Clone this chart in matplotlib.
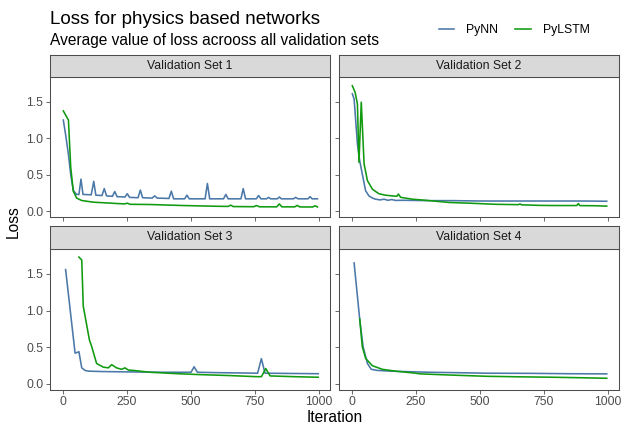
import matplotlib
matplotlib.use("Agg")
import matplotlib.pyplot as plt
from matplotlib.lines import Line2D

plt.rcParams['font.family'] = ['Liberation Sans', 'DejaVu Sans']

panels = ["Validation Set 1", "Validation Set 2", "Validation Set 3", "Validation Set 4"]
series_names = ["PyNN", "PyLSTM"]
colors = {"PyNN": "#4A78A8", "PyLSTM": "#109A10"}

# Validation Set 1
s1_nn_x = [1, 10, 21, 30, 40, 53, 62, 70, 78, 110, 120, 128, 152, 161, 170, 193, 202, 211, 242, 251, 260,
           293, 302, 311, 348, 358, 368, 414, 423, 432, 475, 484, 493, 555, 564, 573, 627, 636, 645,
           695, 704, 713, 755, 764, 773, 795, 803, 811, 837, 845, 853, 900, 909, 918, 957, 965, 973, 994]
s1_nn_y = [1.25, 1.05, 0.78, 0.50, 0.285, 0.23, 0.23, 0.44, 0.23, 0.225, 0.41, 0.22, 0.215, 0.31, 0.21, 0.205, 0.27, 0.20,
           0.195, 0.24, 0.19, 0.185, 0.29, 0.185, 0.18, 0.21, 0.18, 0.175, 0.275, 0.17, 0.17, 0.22, 0.17, 0.17, 0.38, 0.17,
           0.17, 0.23, 0.17, 0.17, 0.31, 0.17, 0.17, 0.215, 0.17, 0.17, 0.19, 0.17, 0.17, 0.195, 0.17, 0.17, 0.19, 0.17,
           0.17, 0.20, 0.17, 0.17]
s1_lstm_x = [1, 21, 30, 40, 53, 73, 118, 210, 240, 251, 262, 340, 470, 600, 645, 655, 665, 745, 756, 767,
             835, 845, 855, 905, 915, 925, 975, 985, 994]
s1_lstm_y = [1.375, 1.25, 0.60, 0.275, 0.18, 0.147, 0.124, 0.106, 0.10, 0.11, 0.095, 0.092, 0.078, 0.068, 0.066, 0.083,
             0.064, 0.062, 0.078, 0.061, 0.06, 0.10, 0.06, 0.06, 0.08, 0.059, 0.058, 0.075, 0.058]

# Validation Set 2
s2_nn_x = [1, 8, 21, 30, 40, 53, 66, 80, 92, 110, 125, 140, 155, 170, 200, 300, 400, 500, 600, 700, 800, 900, 995]
s2_nn_y = [1.61, 1.54, 0.92, 0.69, 0.51, 0.28, 0.21, 0.18, 0.165, 0.155, 0.165, 0.15, 0.16, 0.148, 0.15, 0.145, 0.145,
           0.14, 0.14, 0.14, 0.14, 0.14, 0.137]
s2_lstm_x = [1, 12, 21, 27, 36, 47, 60, 80, 105, 130, 158, 175, 181, 190, 236, 288, 379, 461, 560, 650, 656, 662,
             734, 800, 878, 884, 890, 950, 995]
s2_lstm_y = [1.72, 1.63, 1.47, 0.67, 1.495, 0.65, 0.42, 0.30, 0.24, 0.22, 0.21, 0.205, 0.235, 0.19, 0.165, 0.15, 0.12,
             0.11, 0.095, 0.09, 0.10, 0.088, 0.08, 0.078, 0.078, 0.105, 0.077, 0.075, 0.07]

# Validation Set 3
s3_nn_x = [10, 47, 55, 62, 73, 86, 100, 150, 250, 400, 500, 512, 525, 600, 700, 760, 775, 789, 850, 997]
s3_nn_y = [1.56, 0.42, 0.43, 0.44, 0.22, 0.185, 0.175, 0.17, 0.165, 0.16, 0.16, 0.235, 0.16, 0.155, 0.15, 0.147, 0.346,
           0.147, 0.145, 0.14]
s3_lstm_x = [62, 73, 79, 103, 112, 131, 157, 177, 190, 209, 229, 242, 255, 275, 340, 450, 535, 650, 756, 775, 792,
             809, 900, 997]
s3_lstm_y = [1.73, 1.69, 1.06, 0.60, 0.51, 0.28, 0.23, 0.22, 0.263, 0.22, 0.20, 0.22, 0.19, 0.185, 0.16, 0.14, 0.128,
             0.115, 0.10, 0.10, 0.21, 0.11, 0.10, 0.092]

# Validation Set 4
s4_nn_x = [8, 30, 43, 60, 75, 99, 150, 200, 300, 400, 526, 700, 850, 995]
s4_nn_y = [1.65, 0.88, 0.51, 0.28, 0.20, 0.185, 0.175, 0.17, 0.16, 0.155, 0.147, 0.145, 0.14, 0.138]
s4_lstm_x = [30, 40, 53, 79, 118, 170, 248, 266, 400, 526, 650, 786, 900, 995]
s4_lstm_y = [0.886, 0.51, 0.35, 0.25, 0.20, 0.175, 0.147, 0.138, 0.12, 0.105, 0.098, 0.092, 0.085, 0.078]

data = {
    panels[0]: {"PyNN": (s1_nn_x, s1_nn_y), "PyLSTM": (s1_lstm_x, s1_lstm_y)},
    panels[1]: {"PyNN": (s2_nn_x, s2_nn_y), "PyLSTM": (s2_lstm_x, s2_lstm_y)},
    panels[2]: {"PyNN": (s3_nn_x, s3_nn_y), "PyLSTM": (s3_lstm_x, s3_lstm_y)},
    panels[3]: {"PyNN": (s4_nn_x, s4_nn_y), "PyLSTM": (s4_lstm_x, s4_lstm_y)},
}

x_ticks = [0, 250, 500, 750, 1000]
y_ticks = [0.0, 0.5, 1.0, 1.5]
y_ticklabels = ["0.0", "0.5", "1.0", "1.5"]

W, H = 622, 428
fig = plt.figure(figsize=(W / 100, H / 100), dpi=100)

border_col = "#4D4D4D"
tick_col = "#4D4D4D"
fs_tick = 8.8

cols = [(50, 330), (339, 619)]
rows = [(55, 77, 216.7), (226, 249, 389.5)]

def fbox(l, r, t, b):
    return [l / W, 1 - b / H, (r - l) / W, (b - t) / H]

for i, name in enumerate(panels):
    r, c = divmod(i, 2)
    l, rr = cols[c]
    st, pt, pb = rows[r]
    ax = fig.add_axes(fbox(l, rr, pt, pb))
    for s in series_names:
        xs, ys = data[name][s]
        ax.plot(xs, ys, color=colors[s], lw=1.15, solid_joinstyle="round")
    ax.set_xlim(-51, 1043)
    ax.set_ylim(-0.075, 1.84)
    ax.set_xticks(x_ticks)
    ax.set_yticks(y_ticks)
    for sp in ax.spines.values():
        sp.set_color(border_col)
        sp.set_linewidth(0.75)
    ax.tick_params(axis="both", colors=tick_col, length=2.7, width=0.6, labelsize=fs_tick, pad=2.0,
                   labelcolor=tick_col)
    if r == 1:
        ax.set_xticklabels([str(v) for v in x_ticks])
    else:
        ax.set_xticklabels([])
    if c == 0:
        ax.set_yticklabels(y_ticklabels)
    else:
        ax.set_yticklabels([])
    sax = fig.add_axes(fbox(l, rr, st, pt))
    sax.set_facecolor("#D9D9D9")
    sax.set_xticks([]); sax.set_yticks([])
    for sp in sax.spines.values():
        sp.set_color(border_col)
        sp.set_linewidth(0.75)
    sax.text(0.5, 0.5, name, ha="center", va="center", fontsize=8.8, color="#1A1A1A",
             transform=sax.transAxes)

fig.text(50 / W, 1 - 24 / H, "Loss for physics based networks", fontsize=13.5, color="black",
         ha="left", va="baseline")
fig.text(50 / W, 1 - 44.5 / H, "Average value of loss acrooss all validation sets", fontsize=11.2,
         color="black", ha="left", va="baseline")
fig.text(334.5 / W, 1 - 417 / H, "Iteration", fontsize=11.2, ha="center", va="center")
fig.text(13 / W, 1 - 222 / H, "Loss", fontsize=11.2, ha="center", va="center", rotation=90)

handles = [Line2D([], [], color=colors[s], lw=1.15) for s in series_names]
fig.legend(handles, series_names, loc="center left", bbox_to_anchor=(438.6 / W, 1 - 30 / H),
           ncol=2, frameon=False, fontsize=8.8, handlelength=1.3, handletextpad=0.95,
           columnspacing=1.4, borderpad=0, borderaxespad=0, labelcolor="black")

fig.savefig("out.png", dpi=100)
